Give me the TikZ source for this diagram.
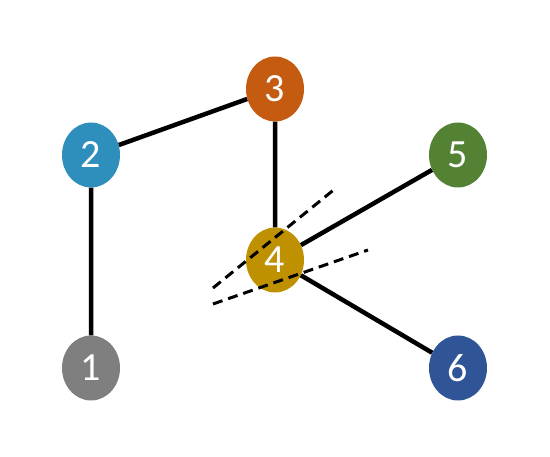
\documentclass[tikz,border=0pt]{standalone}
\usepackage{fontspec}
\setmainfont{Carlito}
\usepackage{xcolor}
\usetikzlibrary{shapes.geometric}
\definecolor{nodegray}{HTML}{7F7F7F}
\definecolor{nodeblue}{HTML}{2E8FBD}
\definecolor{nodeorange}{HTML}{C55A11}
\definecolor{nodegold}{HTML}{BF9000}
\definecolor{nodegreen}{HTML}{548235}
\definecolor{nodenavy}{HTML}{2F5597}
\tikzset{vtx/.style={ellipse, minimum width=58pt, minimum height=65pt, inner sep=0pt, text=white, font=\fontsize{40}{40}\selectfont}}

\begin{document}
\begin{tikzpicture}[x=1pt,y=-1pt]
  \useasboundingbox (0,0) rectangle (550,457);
  % Draw the vertices
  \node[vtx, fill=nodegray] (v1) at (91,368) {1};
  \node[vtx, fill=nodeblue] (v2) at (91,155) {2};
  \node[vtx, fill=nodeorange] (v3) at (275,89) {3};
  \node[vtx, fill=nodegold] (v4) at (275,260) {4};
  \node[vtx, fill=nodegreen] (v5) at (458,155) {5};
  \node[vtx, fill=nodenavy] (v6) at (458,368) {6};
  % Draw the edges
  \draw[line width=4.5pt] (v1) -- (v2) (v2) -- (v3) (v3) -- (v4) (v4) -- (v5) (v4) -- (v6);
  % the cone at 4
  \coordinate (a1) at (213,288); \coordinate (a2) at (336,188);
  \coordinate (b1) at (213,304); \coordinate (b2) at (368,250);
  \draw[line width=3pt, dash pattern=on 10pt off 6pt] (a1) -- (a2) (b1) -- (b2);
\end{tikzpicture}
\end{document}
